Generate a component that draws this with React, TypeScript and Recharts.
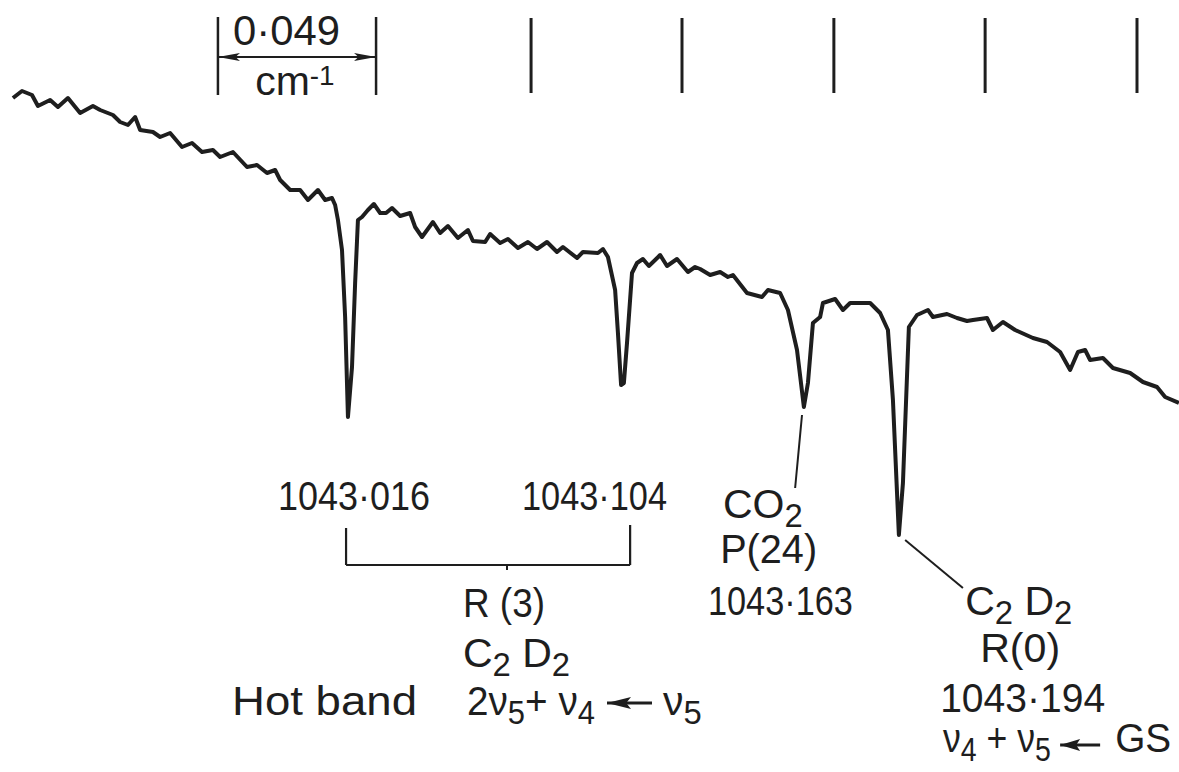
import React from 'react';
import { LineChart, Line, XAxis, YAxis, ReferenceLine, ReferenceDot } from 'recharts';

// x: wavenumber offset from 1043.000 cm-1, in units of 1e-3 cm-1
// y: recorder signal (arbitrary units)
const wavenumberOffset = [
  -90.9, -88.0, -84.8, -82.9, -79.0, -76.5, -73.3, -69.4, -65.3, -63.0,
  -58.9, -56.6, -54.1, -51.8, -50.2, -46.1, -43.8, -40.6, -36.8, -33.6,
  -30.4, -26.9, -24.6, -20.5, -16.0, -12.8, -9.6, -7.0, -5.4, -2.2,
  1.0, 3.5, 6.7, 9.0, 11.2, 12.2, 13.1, 14.4, 15.4, 16.3,
  17.6, 18.6, 19.5, 20.8, 22.7, 24.6, 26.6, 28.5, 30.4, 33.0,
  36.2, 37.8, 40.0, 43.5, 45.8, 48.3, 51.5, 54.7, 56.3, 60.2,
  61.8, 65.0, 67.5, 70.7, 73.9, 76.8, 80.0, 83.2, 85.1, 89.6,
  91.5, 96.3, 97.9, 99.5, 101.8, 102.7, 103.7, 104.6, 105.6, 107.2,
  108.8, 110.7, 112.6, 114.6, 116.2, 118.4, 121.6, 125.1, 127.4, 129.0,
  132.2, 135.4, 137.9, 139.5, 144.0, 148.8, 150.7, 154.6, 157.1, 160.0,
  162.2, 163.5, 165.1, 167.4, 168.3, 172.2, 174.7, 177.0, 183.4, 186.6,
  189.1, 190.7, 192.6, 193.9, 195.8, 198.4, 201.9, 203.5, 208.0, 211.2,
  214.4, 216.3, 220.8, 222.7, 225.9, 229.8, 235.5, 240.0, 244.2, 247.4,
  249.9, 252.2, 253.8, 257.9, 261.1, 266.6, 270.7, 275.2, 277.8, 282.2,
];
const signal = [
  67.4, 68.1, 67.7, 66.6, 67.2, 66.5, 67.4, 65.9, 66.6, 66.2,
  65.7, 65.0, 64.7, 65.5, 64.2, 64.0, 63.5, 63.9, 62.5, 62.9,
  62.0, 62.2, 61.5, 62.0, 60.5, 60.7, 59.9, 60.2, 59.2, 58.2,
  58.2, 57.2, 58.2, 57.2, 57.4, 56.7, 55.2, 52.2, 45.5, 35.5,
  40.5, 48.9, 55.2, 55.5, 56.2, 56.8, 55.9, 55.9, 56.4, 55.6,
  55.9, 54.5, 53.5, 55.0, 53.9, 54.6, 53.4, 54.2, 53.1, 53.0,
  53.8, 52.9, 53.3, 52.4, 53.0, 52.3, 53.0, 52.0, 52.5, 51.4,
  52.0, 51.9, 52.3, 51.5, 48.2, 43.9, 38.7, 38.9, 42.9, 49.9,
  50.9, 51.3, 50.6, 51.2, 51.7, 50.6, 51.3, 50.0, 50.5, 50.3,
  49.7, 50.0, 49.5, 49.7, 47.9, 47.5, 48.2, 47.9, 46.2, 42.2,
  36.5, 38.9, 44.9, 45.5, 46.9, 47.3, 46.2, 46.9, 46.9, 45.9,
  44.2, 37.2, 23.7, 28.9, 44.5, 45.7, 46.2, 45.5, 45.8, 45.4,
  45.1, 45.2, 45.4, 44.2, 45.0, 44.2, 43.4, 43.0, 42.0, 40.2,
  42.0, 42.2, 41.2, 41.4, 40.4, 39.9, 39.0, 38.5, 37.5, 36.9,
];

// Etalon fringe markers along the top (same x units)
const fringeMarkers = [74.9, 123.2, 171.8, 220.2, 268.8];

const data = wavenumberOffset.map((x, i) => ({ x, y: signal[i] }));

const INK = '#1e1e1e';
const FONT = "'Liberation Sans', Arial, sans-serif";
const SIZE = 41;

type Seg = { t: string; sub?: boolean; sup?: boolean };

function RichText(props: {
  cx: number;
  cy: number;
  segs: Seg[];
  size?: number;
  width?: number;
}) {
  const size = props.size ?? SIZE;
  let cur = 0;
  const spans = props.segs.map((s, i) => {
    const target = s.sub ? size * 0.22 : s.sup ? -size * 0.24 : 0;
    const dy = target - cur;
    cur = target;
    const fs = s.sub ? size * 0.8 : s.sup ? size * 0.68 : size;
    return (
      <tspan key={i} dy={dy} fontSize={fs}>
        {s.t}
      </tspan>
    );
  });
  const extra: any = {};
  if (props.width) {
    extra.textLength = props.width;
    extra.lengthAdjust = 'spacingAndGlyphs';
  }
  return (
    <text
      x={props.cx}
      y={props.cy}
      fontFamily={FONT}
      fontSize={size}
      fill={INK}
      textAnchor="start"
      {...extra}
    >
      {spans}
    </text>
  );
}

type Ann = { x: number; y: number; segs: Seg[]; width?: number; size?: number };

const annotations: Ann[] = [
  { x: -20.5, y: 72.7, segs: [{ t: '0·049' }], width: 107, size: 43 },
  { x: -13.4, y: 67.7, segs: [{ t: 'cm' }, { t: '-1', sup: true }] },
  { x: -6.1, y: 26.2, segs: [{ t: '1043·016' }], width: 152 },
  { x: 72.0, y: 26.2, segs: [{ t: '1043·104' }], width: 145 },
  { x: 53.1, y: 15.5, segs: [{ t: 'R (3)' }], width: 82 },
  { x: 53.1, y: 10.5, segs: [{ t: 'C' }, { t: '2', sub: true }, { t: ' D' }, { t: '2', sub: true }] },
  { x: -20.8, y: 5.7, segs: [{ t: 'Hot  band' }], width: 185 },
  { x: 54.4, y: 5.7, segs: [{ t: '2ν' }, { t: '5', sub: true }, { t: '+ ν' }, { t: '4', sub: true }], width: 128 },
  { x: 117.1, y: 5.7, segs: [{ t: 'ν' }, { t: '5', sub: true }] },
  { x: 136.3, y: 25.4, segs: [{ t: 'CO' }, { t: '2', sub: true }] },
  { x: 135.4, y: 20.9, segs: [{ t: 'P(24)' }], width: 97 },
  { x: 131.5, y: 15.7, segs: [{ t: '1043·163' }], width: 145 },
  { x: 213.8, y: 15.7, segs: [{ t: 'C' }, { t: '2', sub: true }, { t: '  D' }, { t: '2', sub: true }] },
  { x: 218.6, y: 11.0, segs: [{ t: 'R(0)' }], width: 80 },
  { x: 205.8, y: 6.0, segs: [{ t: '1043·194' }], width: 165 },
  { x: 206.7, y: 2.0, segs: [{ t: 'ν' }, { t: '4', sub: true }, { t: ' + ν' }, { t: '5', sub: true }], width: 108 },
  { x: 261.8, y: 2.0, segs: [{ t: 'GS' }], width: 56 },
];

type Seg2 = { a: [number, number]; b: [number, number]; w: number };
const leaderLines: Seg2[] = [
  // CO2 leader
  { a: [161.6, 35.7], b: [159.4, 28.4], w: 2 },
  // C2D2 R(0) leader
  { a: [194.6, 23.2], b: [213.1, 18.4], w: 2 },
  // R(3) bracket
  { a: [15.7, 24.4], b: [15.7, 20.7], w: 2.2 },
  { a: [106.6, 24.7], b: [106.6, 20.7], w: 2.2 },
  { a: [15.7, 20.7], b: [106.6, 20.7], w: 2.2 },
  { a: [67.2, 20.7], b: [67.2, 20.2], w: 2 },
  // scale bar
  { a: [-25.3, 67.7], b: [-25.3, 75.5], w: 2.5 },
  { a: [25.3, 67.7], b: [25.3, 75.5], w: 2.5 },
  { a: [-25.3, 71.5], b: [25.3, 71.5], w: 2 },
  // transition arrows (shafts)
  { a: [99.2, 6.9], b: [113.6, 6.9], w: 3 },
  { a: [244.2, 2.7], b: [257.0, 2.7], w: 3 },
];

// arrowhead tips: [x, y, direction (-1 = points left, 1 = points right), length, half-height]
const arrowHeads: [number, number, number, number, number][] = [
  [-25.3, 71.5, -1, 22, 4],
  [25.3, 71.5, 1, 22, 4],
  [99.2, 6.9, -1, 24, 6],
  [244.2, 2.7, -1, 20, 6],
];

export default function App() {
  return (
    <div style={{ position: 'absolute', left: 0, top: 0, background: '#fff' }}>
      <LineChart width={1179} height={772} data={data} margin={{ top: 0, right: 0, bottom: 0, left: 0 }}>
        <XAxis type="number" dataKey="x" domain={[-95.04, 282.24]} hide allowDataOverflow />
        <YAxis type="number" domain={[0, 77.2]} hide allowDataOverflow />
        {fringeMarkers.map((fx) => (
          <ReferenceLine
            key={'f' + fx}
            segment={[{ x: fx, y: 67.9 }, { x: fx, y: 75.4 }]}
            stroke={INK}
            strokeWidth={3}
            ifOverflow="visible"
          />
        ))}
        {leaderLines.map((l, i) => (
          <ReferenceLine
            key={'l' + i}
            segment={[{ x: l.a[0], y: l.a[1] }, { x: l.b[0], y: l.b[1] }]}
            stroke={INK}
            strokeWidth={l.w}
            ifOverflow="visible"
          />
        ))}
        {arrowHeads.map((h, i) => (
          <ReferenceDot
            key={'h' + i}
            x={h[0]}
            y={h[1]}
            r={1}
            ifOverflow="visible"
            shape={(p: any) => {
              const back = -h[2] * h[3];
              return (
                <polygon
                  points={`${p.cx},${p.cy} ${p.cx + back},${p.cy - h[4]} ${p.cx + back * 0.8},${p.cy} ${p.cx + back},${p.cy + h[4]}`}
                  fill={INK}
                />
              );
            }}
          />
        ))}
        {annotations.map((a, i) => (
          <ReferenceDot
            key={'a' + i}
            x={a.x}
            y={a.y}
            r={1}
            ifOverflow="visible"
            shape={(p: any) => <RichText cx={p.cx} cy={p.cy} segs={a.segs} width={a.width} size={a.size} />}
          />
        ))}
        <Line
          type="linear"
          dataKey="y"
          stroke={INK}
          strokeWidth={4}
          strokeLinejoin="round"
          dot={false}
          activeDot={false}
          isAnimationActive={false}
        />
      </LineChart>
    </div>
  );
}
